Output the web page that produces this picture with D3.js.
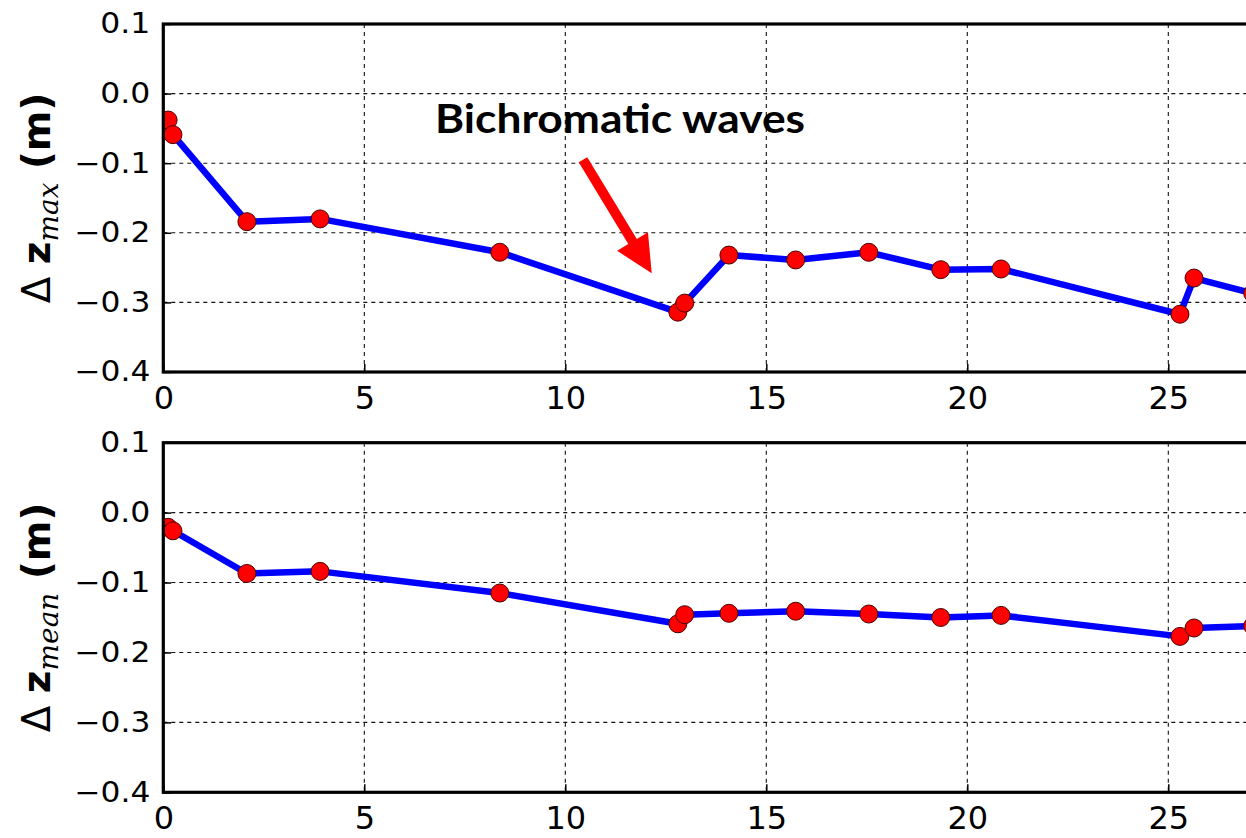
<!DOCTYPE html>
<html>
<head>
<meta charset="utf-8">
<script src="https://cdn.jsdelivr.net/npm/d3@7"></script>
<style>
  html, body { margin: 0; padding: 0; background: #fff; }
  svg { display: block; }
</style>
</head>
<body>
<svg id="chart" width="1246" height="838"></svg>
<script>
// Distance values shared by both panels
const distance = [0.12, 0.24, 2.08, 3.9, 8.37, 12.8, 12.97, 14.07, 15.73, 17.55, 19.34, 20.84, 25.29, 25.64, 27.1];
// Change of maximum bed level (m)
const dzMax = [-0.038, -0.059, -0.184, -0.180, -0.228, -0.314, -0.301, -0.232, -0.239, -0.228, -0.253, -0.252, -0.317, -0.265, -0.287];
// Change of mean bed level (m)
const dzMean = [-0.021, -0.026, -0.087, -0.084, -0.115, -0.159, -0.146, -0.144, -0.141, -0.145, -0.150, -0.147, -0.177, -0.165, -0.162];

const xTicks = [0, 5, 10, 15, 20, 25];
const yTicks = [0.1, 0.0, -0.1, -0.2, -0.3, -0.4];
const xDomain = [0, 30];
const yDomain = [-0.4, 0.1];

// Annotation: text anchor and arrow tail/tip in data coordinates
const noteText = "Bichromatic waves";
const noteAt = [6.76, -0.057];
const arrowTail = [10.44, -0.095];
const arrowTip = [12.15, -0.258];

const svg = d3.select("#chart");
const W = 1246, H = 838;
svg.append("rect").attr("width", W).attr("height", H).attr("fill", "#fff");

const plotLeft = 163.3;
const unitPx = 40.2;
const x = d3.scaleLinear().domain(xDomain).range([plotLeft, plotLeft + (xDomain[1] - xDomain[0]) * unitPx]);

const panels = [
  { id: "max", top: 24, bottom: 372, values: dzMax, sub: "max" },
  { id: "mean", top: 442.7, bottom: 792.3, values: dzMean, sub: "mean" }
];

const fmt = d3.format(".1f");

panels.forEach(p => {
  const y = d3.scaleLinear().domain(yDomain).range([p.bottom, p.top]);
  const g = svg.append("g");
  const [x0, x1] = x.range();

  // clip region for the plotting area
  const clipId = "clip-" + p.id;
  svg.append("clipPath").attr("id", clipId)
    .append("rect").attr("x", x0).attr("y", p.top)
    .attr("width", x1 - x0).attr("height", p.bottom - p.top);

  // dashed grid
  const grid = g.append("g").attr("stroke", "#111").attr("stroke-width", 1.1)
    .attr("stroke-dasharray", "4,4");
  grid.selectAll("line.v").data(xTicks.filter(t => t > xDomain[0] && t < xDomain[1]))
    .join("line").attr("class", "v")
    .attr("x1", d => x(d)).attr("x2", d => x(d))
    .attr("y1", p.top).attr("y2", p.bottom);
  grid.selectAll("line.h").data(yTicks.filter(t => t > yDomain[0] && t < yDomain[1]))
    .join("line").attr("class", "h")
    .attr("x1", x0).attr("x2", x1)
    .attr("y1", d => y(d)).attr("y2", d => y(d));

  // y axis with inward ticks
  const ya = g.append("g").attr("transform", `translate(${x0},0)`)
    .call(d3.axisLeft(y).tickValues(yTicks).tickFormat(fmt).tickSizeInner(-8).tickSizeOuter(0).tickPadding(13));
  ya.select(".domain").remove();
  ya.selectAll(".tick line").attr("stroke", "#000").attr("stroke-width", 1.5);
  ya.selectAll(".tick text")
    .attr("font-family", "'DejaVu Sans', sans-serif")
    .attr("font-size", 27.5)
    .attr("fill", "#000")
    .attr("textLength", d => d < 0 ? 76 : 50)
    .attr("lengthAdjust", "spacingAndGlyphs");

  // x axis with inward ticks
  const xa = g.append("g").attr("transform", `translate(0,${p.bottom})`)
    .call(d3.axisBottom(x).tickValues(xTicks).tickFormat(d3.format("d")).tickSizeInner(-8).tickSizeOuter(0).tickPadding(14));
  xa.select(".domain").remove();
  xa.selectAll(".tick line").attr("stroke", "#000").attr("stroke-width", 1.5);
  xa.selectAll(".tick text")
    .attr("font-family", "'DejaVu Sans', sans-serif")
    .attr("font-size", 32)
    .attr("fill", "#000");

  // series line and markers
  const pts = distance.map((d, i) => [d, p.values[i]]);
  const data = g.append("g").attr("clip-path", `url(#${clipId})`);
  data.append("path")
    .datum(pts)
    .attr("fill", "none")
    .attr("stroke", "#0000ff")
    .attr("stroke-width", 6.5)
    .attr("stroke-linejoin", "round")
    .attr("d", d3.line().x(d => x(d[0])).y(d => y(d[1])));
  data.selectAll("circle").data(pts).join("circle")
    .attr("cx", d => x(d[0])).attr("cy", d => y(d[1]))
    .attr("r", 9)
    .attr("fill", "#ff0000")
    .attr("stroke", "#4a0000")
    .attr("stroke-width", 1);

  // frame
  g.append("rect")
    .attr("x", x0).attr("y", p.top)
    .attr("width", x1 - x0).attr("height", p.bottom - p.top)
    .attr("fill", "none").attr("stroke", "#000").attr("stroke-width", 3.2);

  // rotated y-axis label
  const cy = (p.top + p.bottom) / 2;
  const lab = svg.append("text")
    .attr("transform", `translate(50,${cy}) rotate(-90)`)
    .attr("text-anchor", "middle")
    .attr("font-family", "'DejaVu Sans', sans-serif")
    .attr("font-size", 39)
    .attr("fill", "#000");
  lab.append("tspan").text("\u0394 ");
  lab.append("tspan").attr("font-weight", "bold").text("z");
  lab.append("tspan")
    .attr("font-family", "'DejaVu Serif', serif")
    .attr("font-style", "italic")
    .attr("font-size", 28)
    .attr("dy", 8)
    .text(p.sub);
  lab.append("tspan").attr("font-weight", "bold").attr("dy", -8).text(" (m)");

  // annotation on the upper panel
  if (p.id === "max") {
    svg.append("text")
      .attr("x", x(noteAt[0])).attr("y", y(noteAt[1]))
      .attr("font-family", "Lato, 'Open Sans', sans-serif")
      .attr("font-weight", "bold")
      .attr("font-size", 40)
      .attr("textLength", 370)
      .attr("lengthAdjust", "spacingAndGlyphs")
      .attr("fill", "#000")
      .text(noteText);

    const tx = x(arrowTail[0]), ty = y(arrowTail[1]);
    const hx = x(arrowTip[0]), hy = y(arrowTip[1]);
    const dx = hx - tx, dy = hy - ty, len = Math.hypot(dx, dy);
    const ux = dx / len, uy = dy / len, nx = -uy, ny = ux;
    const headLen = 37, headHalf = 18, shaftHalf = 5;
    const bx = hx - ux * headLen, by = hy - uy * headLen;
    const poly = [
      [tx + nx * shaftHalf, ty + ny * shaftHalf],
      [bx + nx * shaftHalf, by + ny * shaftHalf],
      [bx + nx * headHalf, by + ny * headHalf],
      [hx, hy],
      [bx - nx * headHalf, by - ny * headHalf],
      [bx - nx * shaftHalf, by - ny * shaftHalf],
      [tx - nx * shaftHalf, ty - ny * shaftHalf]
    ];
    svg.append("path")
      .attr("d", "M" + poly.map(q => q.join(",")).join("L") + "Z")
      .attr("fill", "#ff0000");
  }
});
</script>
</body>
</html>
